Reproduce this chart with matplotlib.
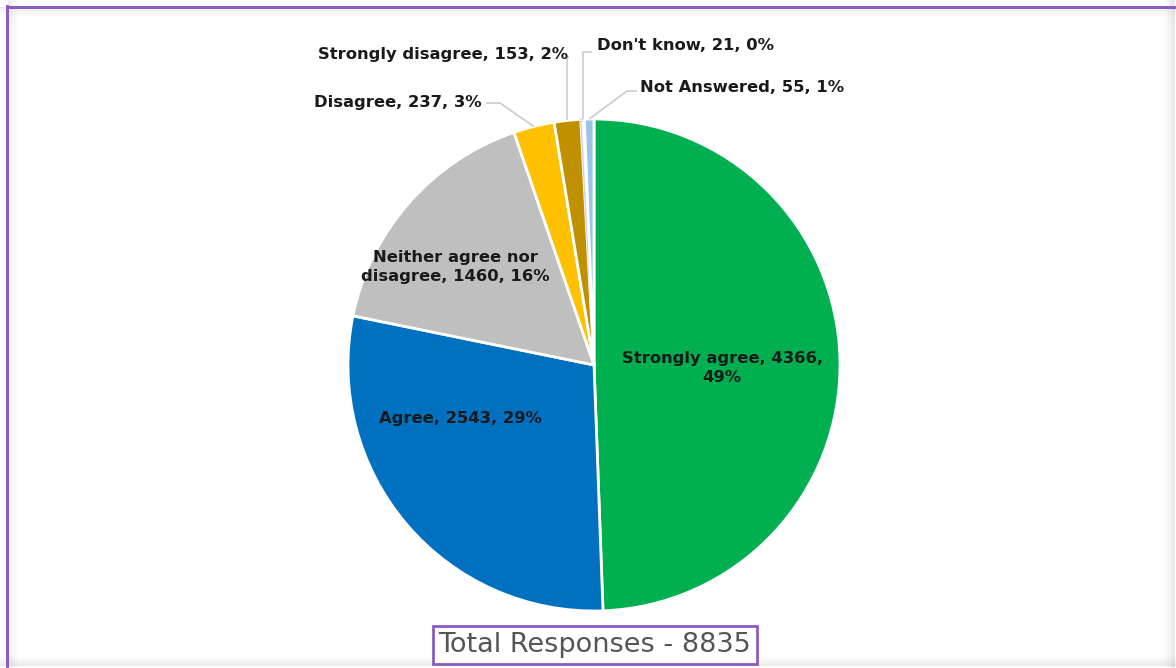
import matplotlib
matplotlib.use("Agg")
import matplotlib.pyplot as plt
import numpy as np
from matplotlib.patches import Rectangle

categories = ["Strongly agree", "Agree", "Neither agree nor disagree", "Disagree",
              "Strongly disagree", "Don't know", "Not Answered"]
counts = [4366, 2543, 1460, 237, 153, 21, 55]
percents = [49, 29, 16, 3, 2, 0, 1]
colors = ["#00B050", "#0070C0", "#BFBFBF", "#FFC000", "#BF9000", "#F4F6FA", "#9DC3E6"]
total_label = "Total Responses - 8835"

W, H = 1176, 668
CX, CY, R = 594, 365, 246  # pie centre/radius in pixels

fig = plt.figure(figsize=(W / 100, H / 100), dpi=100)
fig.patch.set_facecolor("white")
ax = fig.add_axes([0, 0, 1, 1])

wedges, _ = ax.pie(counts, colors=colors, startangle=90, counterclock=False,
                   radius=1, wedgeprops=dict(edgecolor="white", linewidth=2))
wedges[5].set_edgecolor("#D0D5DD")
wedges[5].set_linewidth(1)

ax.set_xlim(-CX / R, (W - CX) / R)
ax.set_ylim(-(H - CY) / R, CY / R)
ax.set_aspect("equal")
ax.axis("off")


def px(x, y):
    return (x - CX) / R, (CY - y) / R


def mid_point(w, r=1.0):
    a = np.deg2rad((w.theta1 + w.theta2) / 2)
    return r * np.cos(a), r * np.sin(a)


font = dict(family="DejaVu Sans", fontweight="bold", color="#1A1A1A", fontsize=11.8)

inside = {0: (722, 368), 1: (460, 418), 2: (455, 267)}
for i, (x, y) in inside.items():
    if i == 2:
        txt = "Neither agree nor\ndisagree, %d, %d%%" % (counts[i], percents[i])
    elif i == 0:
        txt = "%s, %d,\n%d%%" % (categories[i], counts[i], percents[i])
    else:
        txt = "%s, %d, %d%%" % (categories[i], counts[i], percents[i])
    ax.text(*px(x, y), txt, ha="center", va="center", linespacing=1.3, **font)

line_kw = dict(color="#C8C8C8", linewidth=1.1, solid_capstyle="butt")
# Disagree
ax.text(*px(482, 103), "%s, %d, %d%%" % (categories[3], counts[3], percents[3]),
        ha="right", va="center", **font)
wx, wy = mid_point(wedges[3])
sx, sy = px(486, 103)
ex, ey = px(500, 103)
ax.plot([sx, ex, wx], [sy, ey, wy], **line_kw)
# Strongly disagree
ax.text(*px(568, 54), "%s, %d, %d%%" % (categories[4], counts[4], percents[4]),
        ha="right", va="center", **font)
wx, wy = mid_point(wedges[4])
sx, sy = px(569, 57)
ax.plot([sx, wx, wx], [sy, sy, wy], **line_kw)
# Don't know
ax.text(*px(597, 46), "%s, %d, %d%%" % (categories[5], counts[5], percents[5]),
        ha="left", va="center", **font)
wx, wy = mid_point(wedges[5])
sx, sy = px(592, 52)
ax.plot([sx, wx, wx], [sy, sy, wy], **line_kw)
# Not Answered
ax.text(*px(640, 88), "%s, %d, %d%%" % (categories[6], counts[6], percents[6]),
        ha="left", va="center", **font)
wx, wy = mid_point(wedges[6])
sx, sy = px(637, 91)
ex, ey = px(627, 91)
ax.plot([sx, ex, wx], [sy, ey, wy], **line_kw)

fig.text(595 / W, 1 - 645 / H, total_label, ha="center", va="center",
         fontsize=19.5, color="#555555", family="DejaVu Sans", fontweight="medium",
         bbox=dict(boxstyle="square,pad=0.22", facecolor="white",
                   edgecolor="#8A5CC2", linewidth=2))

# frame: soft shadows + purple border
for k in range(10):
    a = 0.10 * (1 - k / 10)
    fig.add_artist(Rectangle((0, 1 - (8 + k) / H), 1, 1 / H, transform=fig.transFigure,
                             facecolor="#555555", alpha=a, edgecolor="none"))
    fig.add_artist(Rectangle(((8 + k) / W, 0), 1 / W, 1, transform=fig.transFigure,
                             facecolor="#555555", alpha=a, edgecolor="none"))
    fig.add_artist(Rectangle((1 - (2 + k) / W, 0), 1 / W, 1, transform=fig.transFigure,
                             facecolor="#555555", alpha=a * 1.5, edgecolor="none"))
    fig.add_artist(Rectangle((0, (2 + k) / H), 1, 1 / H, transform=fig.transFigure,
                             facecolor="#555555", alpha=a * 1.2, edgecolor="none"))
fig.add_artist(Rectangle((6 / W, 0), 3 / W, 1 - 5 / H, transform=fig.transFigure,
                         facecolor="#8A5CC2", edgecolor="none"))
fig.add_artist(Rectangle((6 / W, 1 - 8.5 / H), 1, 3 / H, transform=fig.transFigure,
                         facecolor="#8A5CC2", edgecolor="none"))

fig.savefig("out.png", dpi=100, facecolor="white")
